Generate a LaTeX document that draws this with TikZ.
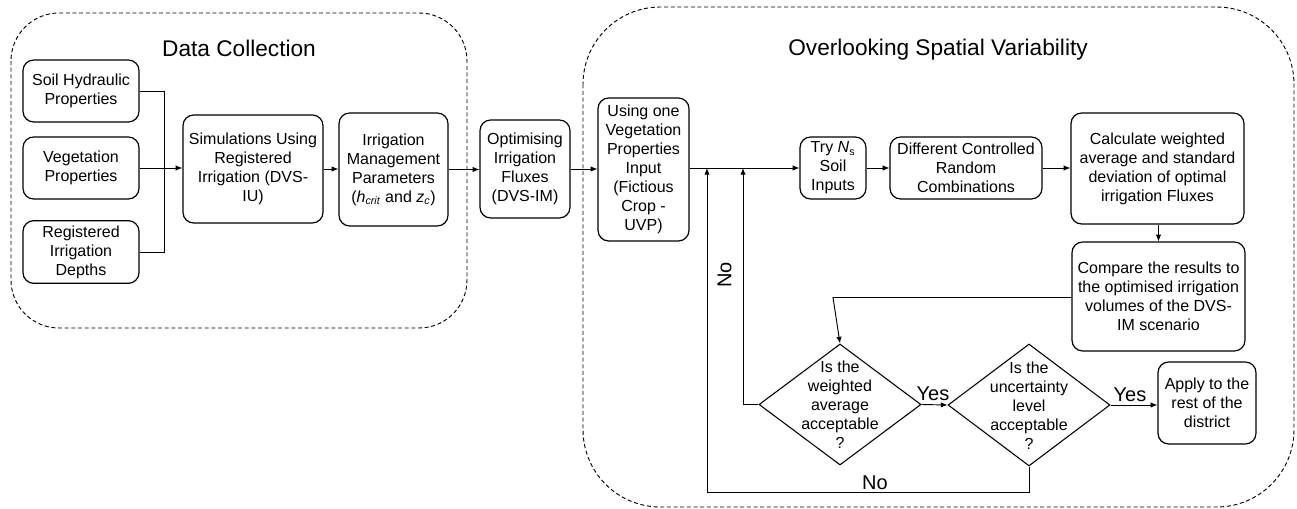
\documentclass[tikz,border=0pt]{standalone}
\usepackage{fontspec}
\setmainfont{Liberation Sans}
\usetikzlibrary{shapes.geometric,arrows.meta}
\begin{document}
\begin{tikzpicture}[x=0.75pt,y=-0.75pt,
 box/.style={draw,rounded corners=8pt,align=center,inner sep=0pt,font=\fontsize{12}{14.2}\selectfont,line width=0.9pt},
 dia/.style={draw,diamond,inner sep=0pt,line width=0.8pt},
 dtext/.style={align=center,inner sep=0pt,font=\fontsize{12}{14.2}\selectfont},
 arr/.style={-{Latex[length=5pt,width=4pt]},line width=0.7pt},
 ln/.style={line width=0.7pt},
 grp/.style={draw,dash pattern=on 3pt off 2pt,line width=0.7pt},
 title/.style={font=\fontsize{17}{20}\selectfont,inner sep=0pt},
 lab/.style={font=\fontsize{15}{17}\selectfont,inner sep=0pt}]
\useasboundingbox (0,0) rectangle (1297,509);
% containers
\draw[grp,rounded corners=36pt] (11,13) rectangle (467,328);
\draw[grp,rounded corners=58pt] (583,7) rectangle (1294,507);
\node[title] (t1) at (239,48) {Data Collection};
\node[title] (t2) at (938,50) {Overlooking Spatial Variability};
% boxes
\node[box,minimum width=87pt,minimum height=46.5pt] (soil) at (81,91) {Soil Hydraulic\\Properties};
\node[box,minimum width=87pt,minimum height=46.5pt] (veg) at (81,168) {Vegetation\\Properties};
\node[box,minimum width=87pt,minimum height=47pt] (dep) at (81,252) {Registered\\Irrigation\\Depths};
\node[box,minimum width=105pt,minimum height=81pt] (sim) at (253,169) {Simulations Using\\Registered\\Irrigation (DVS-\\IU)};
\node[box,minimum width=81.75pt,minimum height=84.75pt] (imp) at (393.5,169.5) {Irrigation\\Management\\Parameters\\(\textit{h}\textsubscript{\textit{crit}} and \textit{z}\textsubscript{\textit{c}})};
\node[box,minimum width=67.5pt,minimum height=73.5pt] (opt) at (525,169) {Optimising\\Irrigation\\Fluxes\\(DVS-IM)};
\node[box,minimum width=68.25pt,minimum height=107.25pt] (uvp) at (643.5,169.5) {Using one\\Vegetation\\Properties\\Input\\(Fictious\\Crop -\\UVP)};
\node[box,minimum width=49.5pt,minimum height=46.5pt] (try) at (833,168) {Try \textit{N}\textsubscript{s}\\Soil\\Inputs};
\node[box,minimum width=114pt,minimum height=46.5pt] (dcr) at (966,168) {Different Controlled\\Random\\Combinations};
\node[box,minimum width=129.75pt,minimum height=83.25pt] (calc) at (1157.5,168.5) {Calculate weighted\\average and standard\\deviation of optimal\\irrigation Fluxes};
\node[box,minimum width=129.75pt,minimum height=81.75pt] (cmp) at (1158.5,296.5) {Compare the results to\\the optimised irrigation\\volumes of the DVS-\\IM scenario};
\node[box,minimum width=73.5pt,minimum height=61.5pt] (apply) at (1207,403) {Apply to the\\rest of the\\district};
% diamonds
\node[dia,minimum width=121.5pt,minimum height=90.75pt] (d1) at (840,404.5) {};
\node[dtext] (d1t) at (840,405) {Is the\\weighted\\average\\acceptable\\?};
\node[dia,minimum width=121.5pt,minimum height=91.5pt] (d2) at (1029,405) {};
\node[dtext] (d2t) at (1029,405.5) {Is the\\uncertainty\\level\\acceptable\\?};
% connectors
\coordinate (j) at (164,168);
\draw[ln] (soil.east) -| (j);
\draw[ln] (dep.east) -| (j);
\draw[arr] (veg.east) -- (veg.east -| sim.west);
\draw[arr] (sim.east) -- (sim.east -| imp.west);
\draw[arr] (imp.east) -- (imp.east -| opt.west);
\draw[arr] (opt.east) -- (opt.east -| uvp.west);
\draw[arr] (uvp.east |- try.west) -- (try.west);
\draw[arr] (try.east) -- (dcr.west);
\draw[arr] (dcr.east) -- (dcr.east -| calc.west);
\draw[arr] (calc.south -| cmp.north) -- (cmp.north);
\coordinate (k) at (833,297.5);
\draw[arr] (cmp.west |- k) -- (k) -- (d1.north);
\draw[arr] (d1.east) -- (d2.west);
\draw[arr] (d2.east) -- (d2.east -| apply.west);
\coordinate (m1) at (743,168);
\draw[arr] (d1.west) -| (m1);
\coordinate (b2) at (1029,492);
\coordinate (m2) at (707,168);
\draw[arr] (d2.south) -- (b2) -| (m2);
% labels
\node[lab] (y1) at (933,394) {Yes};
\node[lab] (y2) at (1130,395) {Yes};
\node[lab] (n1) at (875,483) {No};
\node[lab,rotate=90] (n2) at (724.5,275) {No};
\end{tikzpicture}
\end{document}
